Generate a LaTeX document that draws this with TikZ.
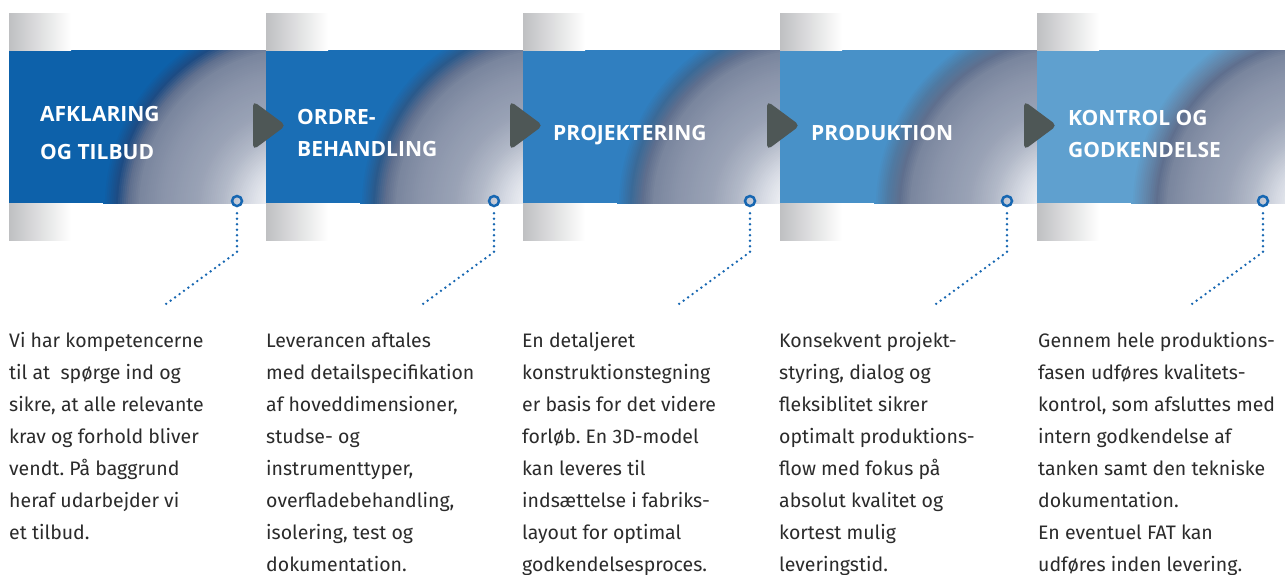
\documentclass[tikz,border=0pt]{standalone}
\usepackage{fontspec}
\setmainfont{Fira Sans}
\newfontfamily\titlefont{Open Sans}
\usetikzlibrary{calc}

\definecolor{txt}{HTML}{2B2B2B}
\definecolor{markblue}{HTML}{1767B2}
\definecolor{tri}{HTML}{4E5756}
\definecolor{stripgray}{HTML}{BFC0C2}
\definecolor{gc0}{HTML}{F6F7F9}
\definecolor{gc1}{HTML}{EEF0F4}
\definecolor{gc2}{HTML}{D6DAE3}
\definecolor{gc3}{HTML}{B2B9C8}
\definecolor{gc4}{HTML}{9AA3B6}
\definecolor{gc5}{HTML}{8A94AA}
\definecolor{gc6}{HTML}{7A869E}
\definecolor{gc7}{HTML}{5F6F8E}
\definecolor{pb1}{HTML}{0D61AA}\definecolor{pd1}{HTML}{1D4C84}
\definecolor{pb2}{HTML}{1A6EB5}\definecolor{pd2}{HTML}{2A5A8C}
\definecolor{pb3}{HTML}{307FC0}\definecolor{pd3}{HTML}{3A6A98}
\definecolor{pb4}{HTML}{4891C8}\definecolor{pd4}{HTML}{4F7AA2}
\definecolor{pb5}{HTML}{5FA0CF}\definecolor{pd5}{HTML}{6288AD}
\colorlet{pbase}{pb1}\colorlet{pdark}{pd1}

% radial glow drawn as concentric discs, radii in px
\newcommand\drawpanel[3]{%
  \begin{scope}
    \clip (#1,50) rectangle ++(257,153);
    \fill[#2] (#1,50) rectangle ++(257,153);
    \colorlet{pbase}{#2}\colorlet{pdark}{#3}%
    \coordinate (gcenter) at (#1+288,207);
    \foreach \ra/\ca/\rb/\cb in {194/pbase/181/pdark, 181/pdark/169/gc7, 169/gc7/158/gc6,
        158/gc6/135/gc5, 135/gc5/100/gc4, 100/gc4/75/gc3, 75/gc3/50/gc2, 50/gc2/30/gc1, 30/gc1/2/gc0} {
      \pgfmathtruncatemacro\nn{max(1,round((\ra-\rb)/2))}
      \pgfmathtruncatemacro\nm{\nn-1}
      \foreach \t in {0,...,\nm} {
        \pgfmathsetmacro\rr{\ra-(\ra-\rb)*\t/\nn}
        \pgfmathtruncatemacro\pp{100*\t/\nn}
        \fill[\cb!\pp!\ca] (gcenter) circle[radius=\rr pt];
      }
    }
    \fill[gc0] (gcenter) circle[radius=2pt];
  \end{scope}
  \shade[left color=stripgray, middle color=stripgray!75!white, right color=white] (#1,13) rectangle ++(62,37);
  \shade[left color=stripgray, middle color=stripgray!75!white, right color=white] (#1,203) rectangle ++(62,37);
}
\newcommand\drawtri[1]{%
  \fill[tri, rounded corners=5pt] (#1-13,101) -- (#1+20,125.5) -- (#1-13,150) -- cycle;
}

\tikzset{
  titletext/.style={anchor=base west, inner sep=0pt, text=white, font=\titlefont\fontsize{21}{32}\selectfont\bfseries},
  bodytext/.style={anchor=base west, inner sep=0pt, text=txt, font=\frenchspacing\fontsize{19.5}{32}\selectfont},
  marker/.style={circle, draw=markblue, line width=2.5pt, minimum size=10pt, inner sep=0pt},
  leader/.style={markblue, line width=2.7pt, line cap=round, dash pattern=on 0pt off 5.5pt, shorten <=6pt}
}

\begin{document}
\begin{tikzpicture}[x=1pt,y=-1pt]
\useasboundingbox (0,0) rectangle (1285,574);
\fill[white] (0,0) rectangle (1285,574);

\drawpanel{9}{pb1}{pd1}
\drawpanel{266}{pb2}{pd2}
\drawpanel{523}{pb3}{pd3}
\drawpanel{780}{pb4}{pd4}
\drawpanel{1037}{pb5}{pd5}

\drawtri{266}
\drawtri{523}
\drawtri{780}
\drawtri{1037}

% titles
\node (t1) [titletext] at (40,121.7) {\fontsize{21}{37.5}\selectfont\parbox[t]{220pt}{AFKLARING\\OG TILBUD}};
\node (t2) [titletext] at (297,124.3) {\parbox[t]{220pt}{ORDRE-\\BEHANDLING}};
\node (t3) [titletext] at (553,140.7) {PROJEKTERING};
\node (t4) [titletext] at (811,140.5) {PRODUKTION};
\node (t5) [titletext] at (1068,125) {\parbox[t]{210pt}{KONTROL OG\\GODKENDELSE}};

% markers and leaders
\node (m1) [marker] at (237,201) {};
\node (m2) [marker] at (494,201) {};
\node (m3) [marker] at (750,201) {};
\node (m4) [marker] at (1007,201) {};
\node (m5) [marker] at (1263,201) {};
\coordinate (k1) at (237,252); \coordinate (e1) at (166,304);
\coordinate (k2) at (494,252); \coordinate (e2) at (423,304);
\coordinate (k3) at (750,252); \coordinate (e3) at (679,304);
\coordinate (k4) at (1007,252); \coordinate (e4) at (936,304);
\coordinate (k5) at (1263,252); \coordinate (e5) at (1192,304);
\foreach \i in {1,...,5} {\draw[leader] (m\i.south) -- (k\i) -- (e\i);}

% body texts
\node (b1) [bodytext] at (9,347.3) {\parbox[t]{250pt}{Vi har kompetencerne\\til at\ \ spørge ind og\\sikre, at alle relevante\\krav og forhold bliver\\vendt. På baggrund\\heraf udarbejder vi\\et tilbud.}};
\node (b2) [bodytext] at (266,347.3) {\parbox[t]{250pt}{Leverancen aftales\\med detailspecifikation\\af hoveddimensioner,\\studse- og\\instrumenttyper,\\overfladebehandling,\\isolering, test og\\dokumentation.}};
\node (b3) [bodytext] at (522,347.3) {\parbox[t]{250pt}{En detaljeret\\konstruktionstegning\\er basis for det videre\\forløb. En 3D-model\\kan leveres til\\indsættelse i fabriks-\\layout for optimal\\godkendelsesproces.}};
\node (b4) [bodytext] at (779,347.3) {\parbox[t]{250pt}{Konsekvent projekt-\\styring, dialog og\\fleksiblitet sikrer\\optimalt produktions-\\flow med fokus på\\absolut kvalitet og\\kortest mulig\\leveringstid.}};
\node (b5) [bodytext] at (1038,347.3) {\parbox[t]{250pt}{Gennem hele produktions-\\fasen udføres kvalitets-\\kontrol, som afsluttes med\\intern godkendelse af\\tanken samt den tekniske\\dokumentation.\\En eventuel FAT kan\\udføres inden levering.}};
\end{tikzpicture}
\end{document}
